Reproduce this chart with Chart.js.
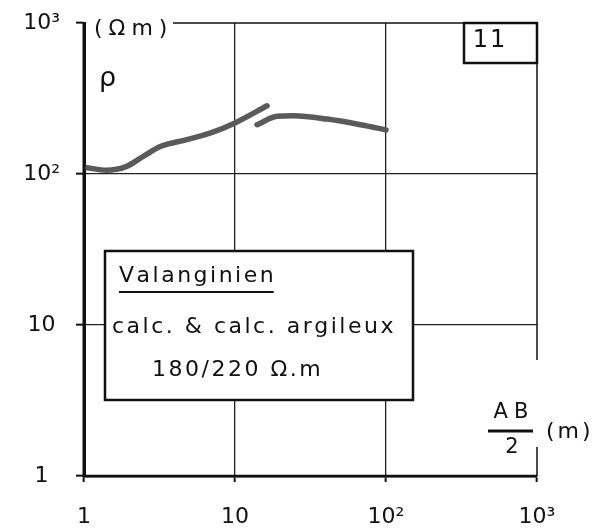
<!DOCTYPE html>
<html>
<head>
<meta charset="utf-8">
<script src="https://cdn.jsdelivr.net/npm/chart.js@4/dist/chart.umd.min.js"></script>
<style>
  html, body { margin: 0; padding: 0; background: #fff; }
  #wrap { width: 606px; height: 529px; }
</style>
</head>
<body>
<div id="wrap"><canvas id="sondage"></canvas></div>
<script>
// AB/2 (m) et résistivité apparente (ohm.m), deux branches du sondage
const ab2Branche1 = [1, 1.4, 1.9, 2.5, 3.2, 4.8, 6.9, 10, 16.3]
const rhoBranche1 = [111, 106, 112, 132, 152, 169, 187, 218, 283]
const ab2Branche2 = [14, 19, 24.4, 40.8, 67.8, 100]
const rhoBranche2 = [212, 241, 243, 231, 212, 196]

// graduations des deux axes log
const decades = [1, 10, 100, 1000]
const labelsX = ['1', '10', '10²', '10³']
const labelsY = ['1', '10', '10²', '10³']

const numeroSondage = '11'
const legendeTitre = 'Valanginien'
const legendeLignes = ['calc. & calc. argileux', '180/220 Ω.m']

const ENCRE = '#111'
const POLICE = 'DejaVu Sans'

function points(xs, ys) {
    return xs.map((x, i) => ({x: x, y: ys[i]}))
}

// grille seulement sur 10 et 100, les bords sont dessinés à part
function couleurGrille(ctx) {
    if (!ctx.tick) return 'transparent'
    return (ctx.tick.value === 10 || ctx.tick.value === 100) ? '#222' : 'transparent'
}

// lettrage espacé, lettre par lettre ; renvoie la largeur écrite
function largeurEspacee(ctx, txt, esp) {
    let w = 0
    for (const c of txt) w += ctx.measureText(c).width + esp
    return w - esp
}

function texteEspace(ctx, txt, x, y, esp, centre) {
    ctx.save()
    ctx.textAlign = 'left'
    let px = centre ? x - largeurEspacee(ctx, txt, esp) / 2 : x
    for (const c of txt) {
        ctx.fillText(c, px, y)
        px += ctx.measureText(c).width + esp
    }
    ctx.restore()
}

const habillage = {
    id: 'habillage',
    afterDraw(chart) {
        const ctx = chart.ctx
        const a = chart.chartArea
        ctx.save()
        ctx.strokeStyle = ENCRE
        ctx.fillStyle = ENCRE

        // axes gauche et bas, traits appuyés
        ctx.fillRect(a.left - 1.5, a.top - 1, 3, a.bottom - a.top + 2)
        ctx.fillRect(a.left - 1.5, a.bottom - 1.25, a.right - a.left + 1.5, 2.5)

        // bord du haut, interrompu par l'unité
        ctx.lineWidth = 1.5
        ctx.beginPath()
        ctx.moveTo(a.left + 89, a.top)
        ctx.lineTo(a.right, a.top)
        ctx.stroke()

        // bord de droite, interrompu par AB/2
        ctx.beginPath()
        ctx.moveTo(a.right, a.top)
        ctx.lineTo(a.right, a.bottom - 116)
        ctx.moveTo(a.right, a.bottom - 29)
        ctx.lineTo(a.right, a.bottom)
        ctx.stroke()

        ctx.textBaseline = 'middle'
        ctx.font = '22px "' + POLICE + '"'
        texteEspace(ctx, '(Ωm)', a.left + 10, a.top + 6, 6, false)

        ctx.font = '27px "' + POLICE + '"'
        texteEspace(ctx, 'ρ', a.left + 15, a.top + 56, 0, false)

        // cartouche du numéro
        ctx.lineWidth = 2.5
        ctx.strokeRect(a.right - 73, a.top, 73, 40)
        ctx.font = '24px "' + POLICE + '"'
        texteEspace(ctx, numeroSondage, a.right - 48, a.top + 18, 2, true)

        // légende AB/2 (m)
        ctx.font = '21px "' + POLICE + '"'
        const cx = a.right - 26
        texteEspace(ctx, 'AB', cx, a.bottom - 63, 6, true)
        ctx.lineWidth = 3
        ctx.beginPath()
        ctx.moveTo(cx - 23, a.bottom - 45)
        ctx.lineTo(cx + 22, a.bottom - 45)
        ctx.stroke()
        texteEspace(ctx, '2', cx + 1, a.bottom - 28, 0, true)
        ctx.font = '22px "' + POLICE + '"'
        texteEspace(ctx, '(m)', a.right + 9, a.bottom - 44, 3, false)

        // encadré de la formation
        const bx = a.left + 21, by = a.top + 228, bw = 308, bh = 149
        ctx.fillStyle = '#fff'
        ctx.fillRect(bx, by, bw, bh)
        ctx.lineWidth = 2.5
        ctx.strokeRect(bx, by, bw, bh)
        ctx.fillStyle = ENCRE
        ctx.font = '22px "' + POLICE + '"'
        texteEspace(ctx, legendeTitre, bx + 14, by + 25, 2.5, false)
        const w = largeurEspacee(ctx, legendeTitre, 2.5)
        ctx.lineWidth = 2
        ctx.beginPath()
        ctx.moveTo(bx + 14, by + 41)
        ctx.lineTo(bx + 14 + w, by + 41)
        ctx.stroke()
        texteEspace(ctx, legendeLignes[0], bx + 7, by + 76, 2.5, false)
        texteEspace(ctx, legendeLignes[1], bx + 47, by + 119, 2.5, false)

        ctx.restore()
    }
}

const config = {
    type: 'line',
    data: {
        datasets: [
            {data: points(ab2Branche1, rhoBranche1)},
            {data: points(ab2Branche2, rhoBranche2)}
        ]
    },
    options: {
        responsive: true,
        maintainAspectRatio: false,
        animation: false,
        parsing: false,
        layout: {padding: {top: 23, right: 69, left: 0, bottom: 0}},
        elements: {
            line: {borderColor: '#5a5a5a', borderWidth: 5.5, cubicInterpolationMode: 'monotone', borderCapStyle: 'round'},
            point: {radius: 0}
        },
        plugins: {
            legend: {display: false},
            tooltip: {enabled: false}
        },
        scales: {
            x: {
                type: 'logarithmic',
                min: 1,
                max: 1000,
                afterBuildTicks: s => { s.ticks = decades.map(v => ({value: v})) },
                afterFit: s => { s.height = 53; s.paddingLeft = 0; s.paddingRight = 0 },
                ticks: {
                    callback: (v, i) => labelsX[i],
                    autoSkip: false,
                    maxRotation: 0,
                    padding: 22,
                    color: ENCRE,
                    font: {family: POLICE, size: 22}
                },
                grid: {color: couleurGrille, lineWidth: 1.3, tickLength: 6, tickColor: ENCRE, tickWidth: 2},
                border: {color: ENCRE, width: 2.5}
            },
            y: {
                type: 'logarithmic',
                min: 1,
                max: 1000,
                afterBuildTicks: s => { s.ticks = decades.map(v => ({value: v})) },
                afterFit: s => { s.width = 84; s.paddingTop = 0; s.paddingBottom = 0 },
                ticks: {
                    callback: (v, i) => labelsY[i],
                    autoSkip: false,
                    crossAlign: 'center',
                    padding: 16,
                    color: ENCRE,
                    font: {family: POLICE, size: 22}
                },
                grid: {color: couleurGrille, lineWidth: 1.3, tickLength: 8, tickColor: ENCRE, tickWidth: 2},
                border: {color: ENCRE, width: 3}
            }
        }
    },
    plugins: [habillage]
}

const myChart = new Chart(document.getElementById('sondage'), config)
</script>
</body>
</html>
